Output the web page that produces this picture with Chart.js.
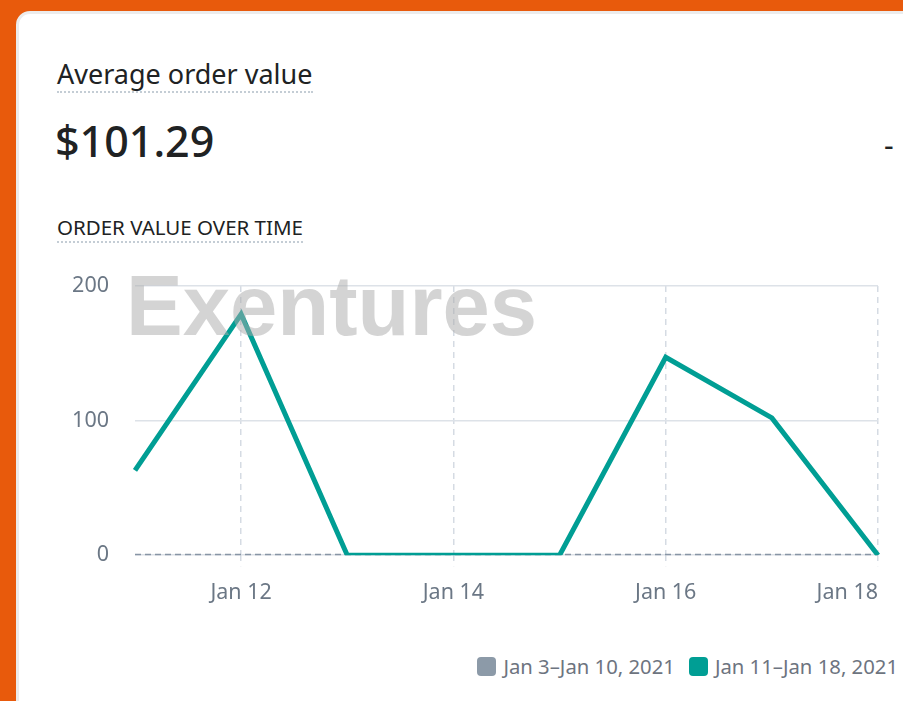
<!DOCTYPE html>
<html>
<head>
<meta charset="utf-8">
<script src="https://cdn.jsdelivr.net/npm/chart.js@4.4.1/dist/chart.umd.min.js"></script>
<style>
  html, body { margin: 0; padding: 0; }
  body { width: 903px; height: 701px; background: #e85a0c; position: relative; overflow: hidden; font-family: "Noto Sans", sans-serif; }
  .card { position: absolute; left: 16px; top: 11px; width: 920px; height: 720px; background: #fff; border: 3px solid #ececec; border-radius: 14px; }
  .title { position: absolute; left: 57px; top: 59px; font-size: 27px; color: #202223; line-height: 30px; border-bottom: 2px dotted #c4cdd5; padding-bottom: 2px; }
  .big { position: absolute; left: 55px; top: 113px; font-size: 43px; font-weight: 500; color: #202223; line-height: 56px; }
  .dash { position: absolute; left: 884px; top: 124px; font-size: 30px; color: #202223; }
  .sub { position: absolute; left: 57px; top: 214px; font-size: 20.5px; color: #202223; line-height: 26px; border-bottom: 2px dotted #c4cdd5; padding-bottom: 1px; }
  .wrap { position: absolute; left: 0; top: 247px; width: 903px; height: 373px; }
  .mark { position: absolute; left: 126px; top: 263px; font: bold 85px "Liberation Sans", Arial, sans-serif; line-height: 85px; color: rgba(170,170,170,0.5); pointer-events: none; white-space: nowrap; }
  .legend { position: absolute; right: 5px; top: 652px; display: flex; align-items: center; font-size: 20.3px; color: #6d7480; white-space: nowrap; }
  .legend span.box { display: inline-block; width: 19px; height: 19px; border-radius: 4px; margin-right: 7px; }
  .legend .item { display: flex; align-items: center; margin-left: 14px; }
</style>
</head>
<body>
<div class="card"></div>
<div class="title">Average order value</div>
<div class="big">$101.29</div>
<div class="dash">-</div>
<div class="sub">ORDER VALUE OVER TIME</div>
<div class="wrap"><canvas id="chart"></canvas></div>
<div class="mark">Exentures</div>
<div class="legend" id="legend"></div>
<script>
// days on the x axis and the two periods
const days = ['Jan 11', 'Jan 12', 'Jan 13', 'Jan 14', 'Jan 15', 'Jan 16', 'Jan 17', 'Jan 18'];
const shownDays = ['Jan 12', 'Jan 14', 'Jan 16', 'Jan 18'];
const currentValues = [63, 179, 0, 0, 0, 147, 102, 0];
const previousValues = [0, 0, 0, 0, 0, 0, 0, 0];
const periodNames = ['Jan 3\u2013Jan 10, 2021', 'Jan 11\u2013Jan 18, 2021'];
const periodColors = ['#8c9aa8', '#009e94'];
const yTicks = [0, 100, 200];

const tickColor = '#6b7785';

// legend, previous period first
document.getElementById('legend').innerHTML = periodNames.map((name, i) =>
  '<div class="item"><span class="box" style="background:' + periodColors[i] + '"></span>' + name + '</div>'
).join('');

new Chart(document.getElementById('chart'), {
  type: 'line',
  data: {
    labels: days,
    datasets: [{
      label: periodNames[1],
      data: currentValues,
      borderColor: periodColors[1],
      backgroundColor: periodColors[1],
      borderWidth: 5,
      pointRadius: 0,
      tension: 0,
      order: 1
    }, {
      label: periodNames[0],
      data: previousValues,
      borderColor: '#8795a5',
      backgroundColor: periodColors[0],
      borderWidth: 3,
      borderDash: [6, 4],
      pointRadius: 0,
      order: 2
    }]
  },
  options: {
    responsive: true,
    maintainAspectRatio: false,
    animation: false,
    layout: { padding: { left: 0, right: 25, top: 15, bottom: 0 } },
    plugins: {
      tooltip: { enabled: false },
      legend: { display: false }
    },
    scales: {
      x: {
        offset: false,
        grid: {
          color: ctx => shownDays.includes(days[ctx.index]) ? '#d5dbe3' : 'rgba(0,0,0,0)',
          tickColor: ctx => shownDays.includes(days[ctx.index]) ? '#d5dbe3' : 'rgba(0,0,0,0)',
          tickLength: 11,
          tickBorderDash: [6, 5],
          lineWidth: 1.5
        },
        border: { display: false, dash: [6, 5] },
        ticks: {
          autoSkip: false,
          maxRotation: 0,
          align: 'inner',
          color: tickColor,
          font: { family: 'Noto Sans', size: 21.5 },
          padding: 14,
          callback: function (v, i) { return shownDays.includes(days[i]) ? days[i] : ''; }
        }
      },
      y: {
        min: 0,
        max: 200,
        border: { display: false },
        afterFit: s => { s.width = 135; },
        afterBuildTicks: s => { s.ticks = yTicks.map(v => ({ value: v })); },
        grid: { color: '#dde2e8', lineWidth: 1.5, drawTicks: false },
        ticks: {
          color: tickColor,
          font: { family: 'Noto Sans', size: 21.5 },
          padding: 26
        }
      }
    }
  }
});
</script>
</body>
</html>
